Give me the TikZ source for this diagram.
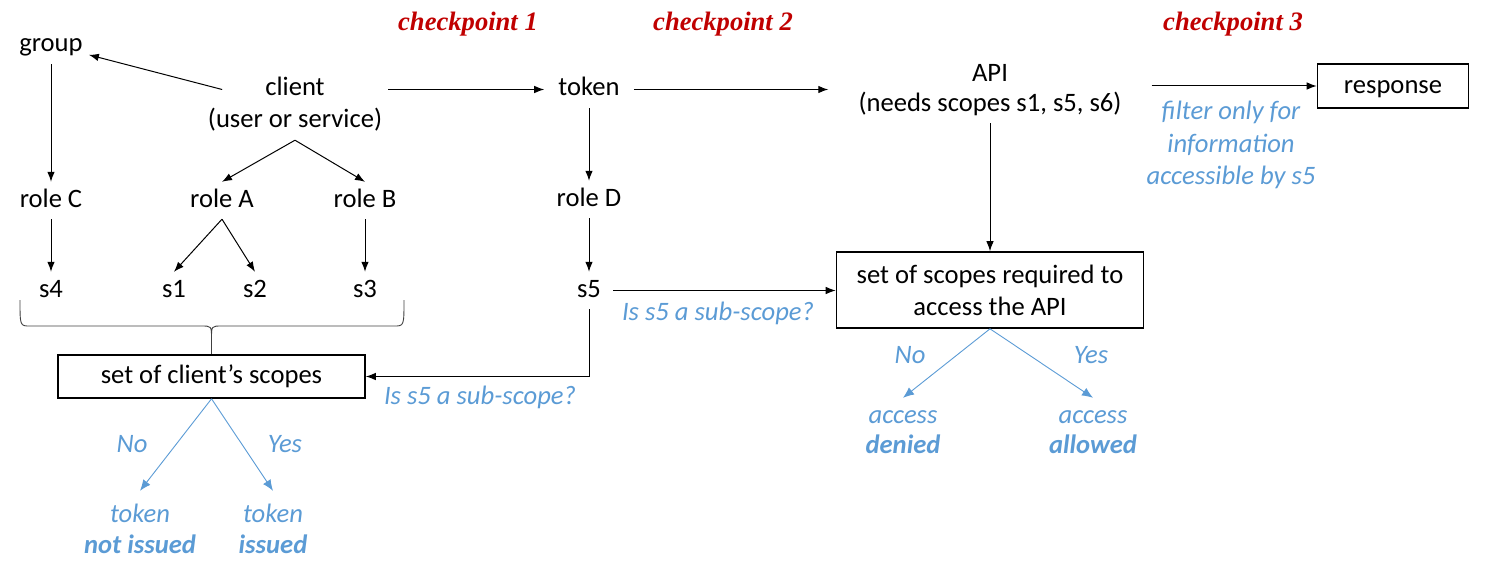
\documentclass[tikz,border=0pt]{standalone}
\usepackage{fontspec}
\setmainfont{Carlito}
\newfontfamily\cpfont{Liberation Serif}
\usetikzlibrary{arrows.meta,calc}
\definecolor{lblue}{RGB}{91,155,213}
\definecolor{cpred}{RGB}{192,0,0}
\newcommand{\bigfs}{\fontsize{26.6}{32}\selectfont}
\begin{document}
\begin{tikzpicture}[x=1pt,y=-1pt,
  every node/.style={font=\bigfs},
  txt/.style={text height=19pt, text depth=6pt, inner xsep=6pt, inner ysep=6pt, anchor=base},
  bluetxt/.style={txt, text=lblue, font=\bigfs\itshape},
  bbluetxt/.style={txt, text=lblue, font=\bigfs\bfseries\itshape},
  cp/.style={anchor=base, text=cpred, font=\bigfs\cpfont\bfseries\itshape},
  box/.style={draw, line width=1.6pt, text height=19pt, text depth=6pt, inner sep=0pt},
  arr/.style={-{Latex[length=10pt,width=7.5pt]}, line width=1pt},
  barr/.style={-{Latex[length=11pt,width=9pt]}, draw=lblue, line width=0.9pt}]
\useasboundingbox (0,0) rectangle (1487,575);

% checkpoints
\node[cp] (cp1) at (468,31) {checkpoint 1};
\node[cp] (cp2) at (723,31) {checkpoint 2};
\node[cp] (cp3) at (1233,31) {checkpoint 3};

% top row
\node[txt] (group) at (51,52) {group};
\node[txt, inner xsep=43pt] (clientA) at (295,96) {client};
\node[txt] (clientB) at (295,128) {(user or service)};
\node[txt, inner xsep=14pt] (token) at (589,96) {token};
\node[txt] (API1) at (990,82) {API};
\node[txt, inner xsep=30pt] (API2) at (990,111) {(needs scopes s1, s5, s6)};
\node[box, text height=21pt, minimum width=151pt, minimum height=44pt] (resp) at (1393,86) {response};
\node[bluetxt] (f1) at (1231,120) {filter only for};
\node[bluetxt] (f2) at (1231,152) {information};
\node[bluetxt] (f3) at (1231,184) {accessible by s5};

% roles
\node[txt] (roleC) at (51,207) {role C};
\node[txt] (roleA) at (222,207) {role A};
\node[txt] (roleB) at (365,207) {role B};
\node[txt] (roleD) at (589,206) {role D};

% scopes
\node[txt] (s4) at (51,297) {s4};
\node[txt] (s1) at (174,297) {s1};
\node[txt] (s2) at (255,297) {s2};
\node[txt] (s3) at (365,297) {s3};
\node[txt, inner xsep=12pt] (s5) at (589,297) {s5};

% boxes
\node[box, minimum width=307pt, minimum height=43pt] (cs) at (211.5,376.5) {set of client’s scopes};
\node[draw, line width=1.6pt, minimum width=307pt, minimum height=76pt, align=center, inner sep=0pt] (req) at (990,290) {set of scopes required to\\access the API};

% blue labels
\node[bluetxt] (l1) at (718,320) {Is s5 a sub-scope?};
\node[bluetxt] (l2) at (480,404) {Is s5 a sub-scope?};
\node[bluetxt] (no1) at (132,452) {No};
\node[bluetxt] (yes1) at (285,452) {Yes};
\node[bluetxt, inner ysep=12pt] (tok1) at (140,522) {token};
\node[bbluetxt] (ni) at (140,553) {not issued};
\node[bluetxt, inner ysep=12pt] (tok2) at (273,522) {token};
\node[bbluetxt] (iss) at (273,553) {issued};
\node[bluetxt] (no2) at (910,363) {No};
\node[bluetxt] (yes2) at (1091,363) {Yes};
\node[bluetxt] (acc1) at (903,423) {access};
\node[bbluetxt] (den) at (903,453) {denied};
\node[bluetxt] (acc2) at (1093,423) {access};
\node[bbluetxt] (allo) at (1093,453) {allowed};

% connectors
\draw[arr] (clientA.west) -- ($(group.east)!0.5!(group.south east)$);
\draw[arr] (group.south) -- (roleC.north);
\draw[arr] (clientB.south) -- (roleA.north);
\draw[arr] (clientB.south) -- (roleB.north);
\draw[arr] (roleC.south) -- (s4.north);
\draw[arr] (roleA.south) -- (s1.north);
\draw[arr] (roleA.south) -- (s2.north);
\draw[arr] (roleB.south) -- (s3.north);
\draw[arr] (clientB.east |- token.west) -- (token.west);
\draw[arr] (token.east) -- (token.east -| API2.west);
\draw[arr] (token.south) -- (roleD.north);
\draw[arr] (roleD.south) -- (s5.north);
\draw[arr] (API2.east |- resp.west) -- (resp.west);
\draw[arr] (API2.south) -- (req.north);
\draw[arr] (s5.east) -- (s5.east -| req.west);
\draw[arr] (s5.south) |- (cs.east);

% brace
\coordinate (bl) at (20,300);
\coordinate (br) at (404,300);
\coordinate (btip) at (211.5,338);
\draw[line width=0.9pt, draw=black!75] (bl) .. controls (20,326) .. (30,326) -- (201,326) .. controls (211.5,326) .. (btip)
  .. controls (211.5,326) .. (222,326) -- (394,326) .. controls (404,326) .. (br);
\draw[line width=0.9pt, draw=black!75] (btip) -- (cs.north);

% decision arrows
\draw[barr] (cs.south) -- (tok1.north);
\draw[barr] (cs.south) -- (tok2.north);
\draw[barr] (req.south) -- (acc1.north);
\draw[barr] (req.south) -- (acc2.north);
\end{tikzpicture}
\end{document}
